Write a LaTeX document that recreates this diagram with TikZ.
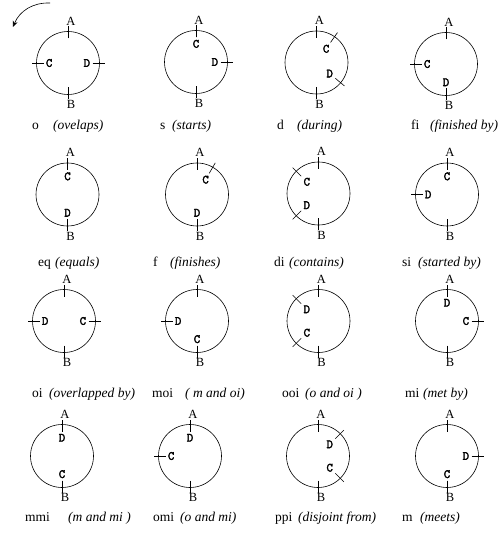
\documentclass[tikz,border=0pt]{standalone}
\usepackage{fontspec}
\setmainfont{Liberation Serif}
\newfontfamily\ptfont{Latin Modern Mono}[FakeBold=2.5]
\usetikzlibrary{arrows.meta,calc,positioning}

\def\ringr{31.5}
\tikzset{
    ring/.style={draw, line width=0.6pt},
    tickmark/.style={line width=0.6pt},
    endlabel/.style={font=\fontsize{12.5}{14}\selectfont, inner sep=0.8pt},
    ptlabel/.style={font=\ptfont\fontsize{12.5}{14}\selectfont, inner sep=2.2pt},
    codetext/.style={font=\fontsize{13.5}{16}\selectfont, anchor=base west, inner sep=0pt},
    desctext/.style={font=\itshape\fontsize{13.5}{16}\selectfont, anchor=base west, inner sep=0pt}
}

% circle with the A / B end points: name, centre
\newcommand{\interval}[2]{%
    \coordinate (#1) at (#2);
    \draw[ring] (#1) circle[radius=\ringr];
    \draw[tickmark] ([shift={(90:{\ringr-7})}]#1) -- ([shift={(90:{\ringr+5})}]#1)
        node[endlabel, above, xshift=3pt] (#1-A) {A};
    \draw[tickmark] ([shift={(270:{\ringr-7})}]#1) -- ([shift={(270:{\ringr+5})}]#1)
        node[endlabel, below, xshift=3pt] (#1-B) {B};
}
% end point of the second interval: ring, letter, angle
\newcommand{\ptmark}[3]{%
    \draw[tickmark] ([shift={(#3:{\ringr-7})}]#1) -- ([shift={(#3:{\ringr+5})}]#1);
    \node[ptlabel, anchor=#3] (#1-#2) at ([shift={(#3:{\ringr-7})}]#1) {#2};
}

\begin{document}
\begin{tikzpicture}[x=1pt, y=1pt]
\useasboundingbox (0,0) rectangle (501,-537);

% direction of reading
\coordinate (turn-start) at (50,-3);
\coordinate (turn-end) at (13,-27);
\draw[-{Stealth[length=6pt,width=5pt]}, line width=0.6pt] (turn-start) to[bend right=35] (turn-end);

% first row
\interval{o}{68,-63}
\ptmark{o}{C}{180} \ptmark{o}{D}{0}
\node[codetext] (o-code) at (32,-130) {o};
\node[desctext] (o-desc) at (53,-130) {(ovelaps)};

\interval{s}{196,-62}
\ptmark{s}{C}{90} \ptmark{s}{D}{0}
\node[codetext] (s-code) at (160,-130) {s};
\node[desctext] (s-desc) at (172,-130) {(starts)};

\interval{d}{316.5,-62.5}
\ptmark{d}{C}{55} \ptmark{d}{D}{320}
\node[codetext] (d-code) at (277,-130) {d};
\node[desctext] (d-desc) at (297,-130) {(during)};

\interval{fi}{446,-64}
\ptmark{fi}{C}{180} \ptmark{fi}{D}{270}
\node[codetext] (fi-code) at (411,-130) {fi};
\node[desctext] (fi-desc) at (430,-130) {(finished by)};

% second row
\interval{eq}{67.5,-194.5}
\ptmark{eq}{C}{90} \ptmark{eq}{D}{270}
\node[codetext] (eq-code) at (38,-266) {eq};
\node[desctext] (eq-desc) at (55,-266) {(equals)};

\interval{f}{197,-194.5}
\ptmark{f}{C}{60} \ptmark{f}{D}{270}
\node[codetext] (f-code) at (153,-266) {f};
\node[desctext] (f-desc) at (170,-266) {(finishes)};

\interval{di}{318.5,-193.5}
\ptmark{di}{C}{135} \ptmark{di}{D}{225}
\node[codetext] (di-code) at (274,-266) {di};
\node[desctext] (di-desc) at (289,-266) {(contains)};

\interval{si}{447,-194.5}
\ptmark{si}{C}{90} \ptmark{si}{D}{180}
\node[codetext] (si-code) at (402,-266) {si};
\node[desctext] (si-desc) at (418,-266) {(started by)};

% third row
\interval{oi}{64,-321}
\ptmark{oi}{D}{180} \ptmark{oi}{C}{0}
\node[codetext] (oi-code) at (32,-397) {oi};
\node[desctext] (oi-desc) at (49,-397) {(overlapped by)};

\interval{moi}{197,-321}
\ptmark{moi}{D}{180} \ptmark{moi}{C}{270}
\node[codetext] (moi-code) at (152,-397) {moi};
\node[desctext] (moi-desc) at (185,-397) {( m and oi)};

\interval{ooi}{318.5,-321}
\ptmark{ooi}{D}{135} \ptmark{ooi}{C}{225}
\node[codetext] (ooi-code) at (282,-397) {ooi};
\node[desctext] (ooi-desc) at (305,-397) {(o and oi )};

\interval{mi}{447,-321}
\ptmark{mi}{D}{90} \ptmark{mi}{C}{0}
\node[codetext] (mi-code) at (405,-397) {mi};
\node[desctext] (mi-desc) at (423,-397) {(met by)};

% fourth row
\interval{mmi}{62,-456}
\ptmark{mmi}{D}{90} \ptmark{mmi}{C}{270}
\node[codetext] (mmi-code) at (25,-521) {mmi};
\node[desctext] (mmi-desc) at (68,-521) {(m and mi )};

\interval{omi}{190,-456}
\ptmark{omi}{D}{90} \ptmark{omi}{C}{180}
\node[codetext] (omi-code) at (153,-521) {omi};
\node[desctext] (omi-desc) at (180,-521) {(o and mi)};

\interval{ppi}{318,-456}
\ptmark{ppi}{D}{45} \ptmark{ppi}{C}{315}
\node[codetext] (ppi-code) at (275,-521) {ppi};
\node[desctext] (ppi-desc) at (298,-521) {(disjoint from)};

\interval{m}{447,-456}
\ptmark{m}{D}{0} \ptmark{m}{C}{270}
\node[codetext] (m-code) at (402,-521) {m};
\node[desctext] (m-desc) at (420,-521) {(meets)};
\end{tikzpicture}
\end{document}
